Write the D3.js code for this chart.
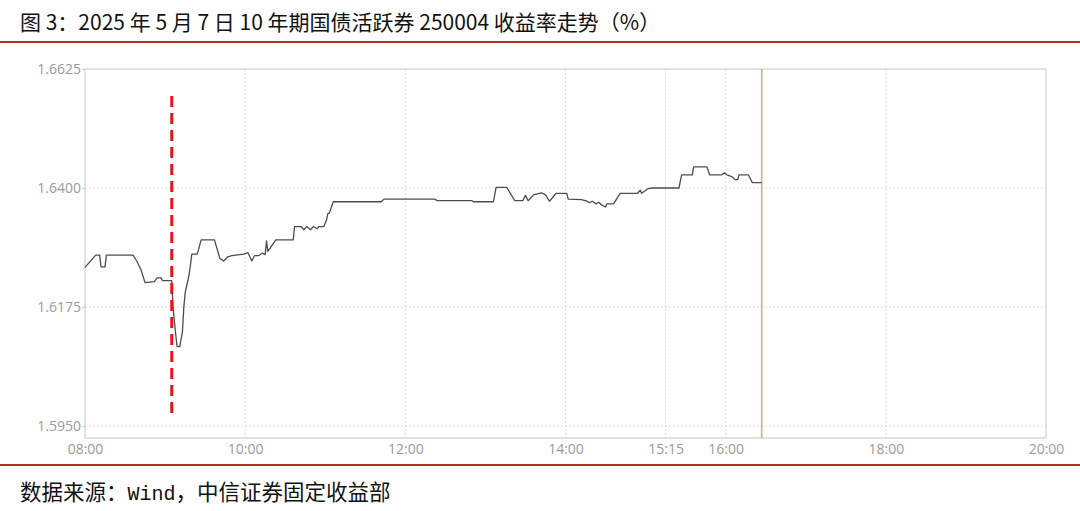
<!DOCTYPE html>
<html>
<head>
<meta charset="utf-8">
<script src="https://cdn.jsdelivr.net/npm/d3@7"></script>
<style>
  body { margin: 0; background: #fff; }
  svg { display: block; }
  .axis text { font-family: "Open Sans", "Noto Sans", sans-serif; font-size: 14px; fill: #9a9a9a; }
</style>
</head>
<body>
<div id="chart"></div>
<script>
// intraday yield of 250004 on 2025-05-07
let times = ["08:00","08:08","08:11","08:12","08:15","08:16","08:36","08:39","08:42","08:45",
    "08:52","08:54","08:57","08:58","09:05","09:06","09:08","09:09","09:11","09:13",
    "09:14","09:15","09:16","09:18","09:19","09:20","09:24","09:25","09:27","09:37",
    "09:41","09:44","09:47","09:50","09:59","10:02","10:05","10:07","10:10","10:13",
    "10:15","10:16","10:17","10:23","10:36","10:37","10:42","10:44","10:46","10:49",
    "10:51","10:54","10:55","10:59","11:01","11:02","11:03","11:06","11:42","11:44",
    "12:22","12:24","12:50","12:51","13:06","13:08","13:16","13:22","13:28","13:30",
    "13:32","13:36","13:42","13:45","13:48","13:53","14:01","14:02","14:12","14:16",
    "14:18","14:20","14:23","14:25","14:27","14:30","14:31","14:36","14:41","14:54",
    "14:56","14:57","15:02","15:05","15:25","15:27","15:35","15:36","15:46","15:48",
    "15:57","15:59","16:01","16:05","16:07","16:09","16:10","16:17","16:20","16:27"];

let yields = [1.6250,1.6273,1.6273,1.6251,1.6251,1.6273,1.6273,1.6261,1.6245,1.6221,
    1.6223,1.6230,1.6230,1.6225,1.6225,1.6173,1.6122,1.6100,1.6100,1.6128,
    1.6173,1.6201,1.6213,1.6236,1.6254,1.6275,1.6275,1.6283,1.6302,1.6302,
    1.6267,1.6262,1.6270,1.6272,1.6275,1.6278,1.6262,1.6272,1.6272,1.6277,
    1.6274,1.6300,1.6280,1.6302,1.6302,1.6327,1.6327,1.6321,1.6327,1.6321,
    1.6327,1.6323,1.6327,1.6327,1.6340,1.6352,1.6352,1.6374,1.6374,1.6379,
    1.6379,1.6376,1.6376,1.6374,1.6374,1.6401,1.6401,1.6376,1.6376,1.6386,
    1.6376,1.6387,1.6391,1.6387,1.6375,1.6390,1.6390,1.6379,1.6378,1.6375,
    1.6372,1.6375,1.6370,1.6373,1.6368,1.6364,1.6370,1.6370,1.6390,1.6390,
    1.6396,1.6390,1.6399,1.6400,1.6400,1.6425,1.6425,1.6440,1.6440,1.6425,
    1.6425,1.6429,1.6425,1.6421,1.6416,1.6416,1.6425,1.6425,1.6410,1.6410];

let xTicks = ["08:00","10:00","12:00","14:00","15:15","16:00","18:00","20:00"];
let yTicks = [1.5950, 1.6175, 1.6400, 1.6625];

// red dashed marker and the "now" line
let markerTime = "09:05";
let markerRange = [1.6574, 1.5971];
let nowTime = "16:27";

let titleText = "图 3：2025 年 5 月 7 日 10 年期国债活跃券 250004 收益率走势（%）";

let margin = {container_width: 1080, container_height: 511, top: 69, right: 34, bottom: 73, left: 85},
    width = margin.container_width - margin.left - margin.right,
    height = margin.container_height - margin.top - margin.bottom;

let parseTime = d3.timeParse("%H:%M");

let svg = d3.select("#chart")
    .append("svg")
    .attr("width", margin.container_width)
    .attr("height", margin.container_height);

let data = times.map(function(t, i) {
    return {time: parseTime(t), value: yields[i]};
});

let x = d3.scaleTime()
    .domain([parseTime("08:00"), parseTime("20:00")])
    .range([margin.left, margin.left + width]);

let y = d3.scaleLinear()
    .domain([yTicks[0], yTicks[yTicks.length - 1]])
    .range([margin.top + height - 12, margin.top]);

let plotBottom = margin.top + height;

// title + red rules
svg.append("text")
    .attr("x", 20)
    .attr("y", 30)
    .style("font-family", "'Noto Sans CJK SC', sans-serif")
    .style("font-size", "21px")
    .style("fill", "#111")
    .text(titleText);

svg.append("line")
    .attr("x1", 0).attr("x2", 1080)
    .attr("y1", 42).attr("y2", 42)
    .attr("stroke", "#b3302d")
    .attr("stroke-width", 1.8);

svg.append("line")
    .attr("x1", 0).attr("x2", 1080)
    .attr("y1", 465).attr("y2", 465)
    .attr("stroke", "#b3302d")
    .attr("stroke-width", 1.8);

// grid
svg.append("g")
    .selectAll("line")
    .data(yTicks.slice(0, -1))
    .enter()
    .append("line")
    .attr("x1", margin.left).attr("x2", margin.left + width)
    .attr("y1", function(d) { return y(d); })
    .attr("y2", function(d) { return y(d); })
    .attr("stroke", "#dcdcdc")
    .attr("stroke-dasharray", "2,2");

svg.append("g")
    .selectAll("line")
    .data(xTicks.slice(1, -1))
    .enter()
    .append("line")
    .attr("x1", function(d) { return x(parseTime(d)); })
    .attr("x2", function(d) { return x(parseTime(d)); })
    .attr("y1", margin.top).attr("y2", plotBottom)
    .attr("stroke", "#dcdcdc")
    .attr("stroke-dasharray", "2,2");

// frame
svg.append("rect")
    .attr("x", margin.left)
    .attr("y", margin.top)
    .attr("width", width)
    .attr("height", height)
    .attr("fill", "none")
    .attr("stroke", "#cfcfcf")
    .attr("stroke-width", 1.2);

// axes
let xAxis = svg.append("g")
    .attr("class", "axis x-axis")
    .attr("transform", "translate(0," + plotBottom + ")")
    .call(d3.axisBottom(x)
        .tickValues(xTicks.map(parseTime))
        .tickFormat(d3.timeFormat("%H:%M"))
        .tickSize(0)
        .tickPadding(6));
xAxis.select(".domain").remove();

let yAxis = svg.append("g")
    .attr("class", "axis y-axis")
    .attr("transform", "translate(" + margin.left + ",0)")
    .call(d3.axisLeft(y)
        .tickValues(yTicks)
        .tickFormat(d3.format(".4f"))
        .tickSize(3)
        .tickPadding(1));
yAxis.select(".domain").remove();
yAxis.selectAll(".tick line").attr("stroke", "#cfcfcf");

// now line
svg.append("line")
    .attr("x1", x(parseTime(nowTime)))
    .attr("x2", x(parseTime(nowTime)))
    .attr("y1", margin.top)
    .attr("y2", plotBottom)
    .attr("stroke", "#d2b27c")
    .attr("stroke-width", 1.6);

// yield line
let line = d3.line()
    .x(function(d) { return x(d.time); })
    .y(function(d) { return y(d.value); });

svg.append("path")
    .datum(data)
    .attr("d", line)
    .attr("fill", "none")
    .attr("stroke", "#4d4d4d")
    .attr("stroke-width", 1.3)
    .attr("stroke-linejoin", "round");

// red dashed marker
svg.append("line")
    .attr("x1", x(parseTime(markerTime)))
    .attr("x2", x(parseTime(markerTime)))
    .attr("y1", y(markerRange[0]))
    .attr("y2", y(markerRange[1]))
    .attr("stroke", "#e8141b")
    .attr("stroke-width", 3)
    .attr("stroke-dasharray", "11,6");

// source
let source = svg.append("text")
    .attr("x", 20)
    .attr("y", 500)
    .style("font-family", "'Noto Sans CJK SC', sans-serif")
    .style("font-size", "21.5px")
    .style("fill", "#111");
source.append("tspan").text("数据来源：");
source.append("tspan").style("font-family", "'Liberation Mono', monospace").style("font-size", "20px").text("Wind");
source.append("tspan").text("，中信证券固定收益部");
</script>
</body>
</html>
